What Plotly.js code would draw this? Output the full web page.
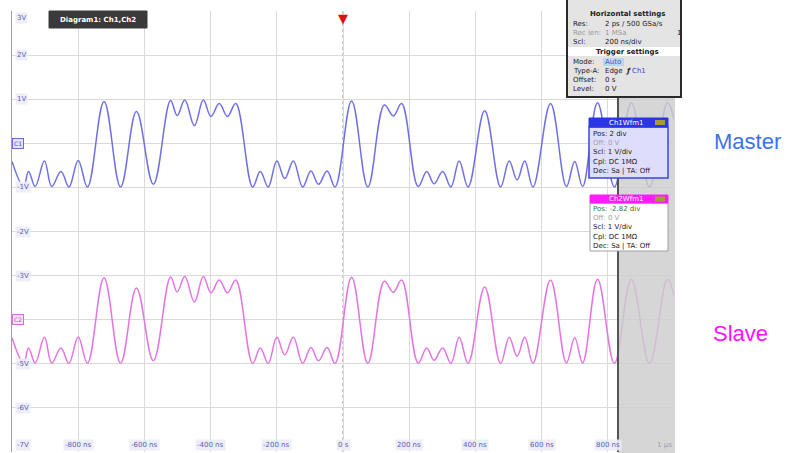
<!DOCTYPE html>
<html><head><meta charset="utf-8">
<script src="https://cdn.plot.ly/plotly-3.0.1.min.js"></script>
<style>html,body{margin:0;padding:0;background:#fff}#chart{width:787px;height:453px}</style>
</head><body><div id="chart"></div>
<script>
// ---- data (time in ns, voltage in V) ----
const masterTimeNs = [-1000,-965,-950,-930,-902,-880,-852,-828,-800,-772,-722,-672,-624,-573,-521,-501,-478,-449,-422,-399,-374,-349,-324,-273,-250,-226,-200,-176,-150,-122,-97,-74,-48,-24,26,75,125,152,177,227,253,275,301,326,351,378,428,476,502,526,549,574,627,675,700,724,769,820,871,926,980,1000];
const masterVolts = [-0.41,-0.98,-0.64,-0.98,-0.40,-0.98,-0.64,-0.99,-0.39,-0.99,0.95,-0.99,0.72,-0.93,0.97,0.63,0.98,0.40,0.98,0.61,0.90,0.61,0.90,-0.99,-0.64,-0.99,-0.40,-0.80,-0.40,-0.99,-0.63,-0.93,-0.63,-0.99,0.96,-0.99,0.87,0.62,0.90,-0.98,-0.64,-0.92,-0.64,-0.99,-0.40,-0.99,0.74,-0.99,-0.40,-0.83,-0.40,-0.99,0.90,-0.98,-0.41,-0.98,0.92,-0.99,0.92,-0.99,0.92,0.55];
const slaveTimeNs = [-1000,-965,-950,-930,-902,-880,-852,-828,-800,-772,-722,-672,-624,-573,-521,-501,-478,-449,-422,-399,-374,-349,-324,-273,-250,-226,-200,-176,-150,-122,-97,-74,-48,-24,26,75,125,152,177,227,253,275,301,326,351,378,428,476,502,526,549,574,627,675,700,724,769,820,871,926,980,1000];
const slaveVolts = [-4.41,-4.98,-4.64,-4.98,-4.40,-4.98,-4.64,-4.99,-4.39,-4.99,-3.05,-4.99,-3.28,-4.93,-3.03,-3.37,-3.02,-3.60,-3.02,-3.39,-3.10,-3.39,-3.10,-4.99,-4.64,-4.99,-4.40,-4.80,-4.40,-4.99,-4.63,-4.93,-4.63,-4.99,-3.04,-4.99,-3.13,-3.38,-3.10,-4.98,-4.64,-4.92,-4.64,-4.99,-4.40,-4.99,-3.26,-4.99,-4.40,-4.83,-4.40,-4.99,-3.10,-4.98,-4.41,-4.98,-3.08,-4.99,-3.08,-4.99,-3.08,-3.45];
const xTickVals = [-800,-600,-400,-200,0,200,400,600,800,1000];
const xTickText = ['-800 ns','-600 ns','-400 ns','-200 ns','0 s','200 ns','400 ns','600 ns','800 ns','1 µs'];
const yTickVals = [3,2,1,-1,-2,-3,-5,-6,-7];
const yTickText = ['3V','2V','1V','-1V','-2V','-3V','-5V','-6V','-7V'];
const seriesNames = ['Master','Slave'];

// ---- geometry of the plot area (pixels) ----
const L = 12, T = 11, W = 662, H = 441;
const px = v => (v - L) / W;
const py = v => 1 - (v - T) / H;
const FONT = 'DejaVu Sans, Liberation Sans, sans-serif';

const traces = [
  {x: masterTimeNs, y: masterVolts, type: 'scatter', mode: 'lines', name: seriesNames[0],
   line: {color: '#7070e6', width: 1.5, shape: 'spline', smoothing: 1.1}, hoverinfo: 'skip'},
  {x: slaveTimeNs, y: slaveVolts, type: 'scatter', mode: 'lines', name: seriesNames[1],
   line: {color: '#e474e4', width: 1.5, shape: 'spline', smoothing: 1.1}, hoverinfo: 'skip'}
];

const shapes = [];
const annotations = [];
function rectPx(x0, y0, x1, y1, fill, line, lw, layer) {
  shapes.push({type: 'rect', xref: 'paper', yref: 'paper', x0: px(x0), x1: px(x1), y0: py(y0), y1: py(y1),
    fillcolor: fill, line: {color: line || 'rgba(0,0,0,0)', width: lw || 0}, layer: layer || 'above'});
}
function textPx(text, x, y, o) {
  o = o || {};
  annotations.push(Object.assign({xref: 'paper', yref: 'paper', x: px(x), y: py(y), text: text, showarrow: false,
    xanchor: o.xa || 'left', yanchor: 'middle', font: {family: FONT, size: o.size || 7, color: o.color || '#202020'},
    borderpad: 0}, o.extra || {}));
}

// center (dotted) lines
shapes.push({type: 'line', xref: 'x', yref: 'paper', x0: 0, x1: 0, y0: 0, y1: 1, line: {color: '#8a8a8a', width: 1, dash: 'dot'}, layer: 'below'});
shapes.push({type: 'line', xref: 'paper', yref: 'y', x0: 0, x1: 1, y0: -2, y1: -2, line: {color: '#8a8a8a', width: 1, dash: 'dot'}, layer: 'below'});

// gray history area on the right
rectPx(618, 0, 675, 453, 'rgba(205,205,205,0.82)', null, 0, 'above');
shapes.push({type: 'line', xref: 'paper', yref: 'paper', x0: px(618), x1: px(618), y0: py(97), y1: 0, line: {color: '#555', width: 2}, layer: 'above'});

// y tick labels
yTickVals.forEach((v, i) => {
  annotations.push({xref: 'paper', yref: 'y', x: px(15), y: v, text: yTickText[i], showarrow: false,
    xanchor: 'left', yanchor: v === 3 ? 'top' : (v === -7 ? 'bottom' : 'middle'), yshift: v === 3 ? -1 : (v === -7 ? 1 : 0),
    font: {family: FONT, size: 7, color: '#5a5ac8'}, bgcolor: 'rgba(236,236,246,0.9)', borderpad: 1});
});
// channel markers
annotations.push({xref: 'paper', yref: 'y', x: px(12), y: 0, text: 'C1', showarrow: false, xanchor: 'left', yanchor: 'middle',
  font: {family: FONT, size: 6, color: '#4a4ad0'}, bgcolor: '#e4e4fa', bordercolor: '#6a6ad8', borderwidth: 1, borderpad: 1});
annotations.push({xref: 'paper', yref: 'y', x: px(12), y: -4, text: 'C2', showarrow: false, xanchor: 'left', yanchor: 'middle',
  font: {family: FONT, size: 6, color: '#c040c0'}, bgcolor: '#fae4fa', bordercolor: '#d070d0', borderwidth: 1, borderpad: 1});
// x tick labels
xTickVals.forEach((v, i) => {
  annotations.push({xref: 'x', yref: 'paper', x: v, y: py(445), text: xTickText[i], showarrow: false,
    xanchor: v === 1000 ? 'right' : 'center', yanchor: 'middle',
    font: {family: FONT, size: 7, color: v === 1000 ? '#9a9ab0' : '#5a5ac8'}, bgcolor: v === 1000 ? 'rgba(0,0,0,0)' : 'rgba(236,236,246,0.9)', borderpad: 1});
});

// trigger marker
annotations.push({xref: 'x', yref: 'paper', x: 0, y: 1, text: '▼', showarrow: false, xanchor: 'center', yanchor: 'top', yshift: 2,
  font: {family: FONT, size: 13, color: '#e01010'}});

// Diagram tab
rectPx(49, 11, 147, 28, '#3a3a3a', '#3a3a3a', 1);
textPx('<b>Diagram1: Ch1,Ch2</b>', 98, 20, {xa: 'center', color: '#ffffff', size: 7});

// Horizontal / trigger settings box
rectPx(567, -2, 681, 97, '#e4e4e4', '#2a2a2a', 2);
rectPx(568, 47, 680, 56, '#ffffff', null, 0);
textPx('<b>Horizontal settings</b>', 627, 14, {xa: 'center', size: 7});
textPx('Res:', 572, 24); textPx('2 ps / 500 GSa/s', 604, 24);
textPx('Rec len:', 572, 33, {color: '#9a9a9a'}); textPx('1 MSa', 604, 33, {color: '#9a9a9a'});
textPx('1', 676, 33);
textPx('Scl:', 572, 42); textPx('200 ns/div', 604, 42);
textPx('<b>Trigger settings</b>', 627, 52, {xa: 'center', size: 7});
rectPx(603, 58, 624, 66, '#bcd4f4', null, 0);
textPx('Mode:', 572, 62); textPx('Auto', 604, 62, {color: '#3a60c0'});
textPx('Type-A:', 572, 71); textPx('Edge', 604, 71); textPx('<i><b>ƒ</b></i>', 624, 71); textPx('Ch1', 631, 71, {color: '#4040d0'});
textPx('Offset:', 572, 80); textPx('0 s', 604, 80);
textPx('Level:', 572, 89); textPx('0 V', 604, 89);

// Ch1Wfm1 box
rectPx(589, 127, 668, 178, '#dedefc', '#3b46e0', 1.5);
rectPx(589, 118, 668, 127, '#2a36e6', '#2a36e6', 1);
rectPx(655, 120, 665, 125, '#a89a3a', null, 0);
textPx('Ch1Wfm1', 626, 122.5, {xa: 'center', color: '#ffffff'});
textPx('Pos: 2 div', 592, 134);
textPx('Off: 0 V', 592, 143, {color: '#a0a0b0'});
textPx('Scl: 1 V/div', 592, 152);
textPx('Cpl: DC 1MΩ', 592, 162);
textPx('Dec: Sa | TA: Off', 592, 171);

// Ch2Wfm1 box
rectPx(590, 203, 668, 251, '#ffffff', '#a0a0a0', 1);
rectPx(590, 195, 668, 203, '#ff1cff', '#ff1cff', 1);
rectPx(655, 196.5, 665, 201.5, '#a89a3a', null, 0);
textPx('Ch2Wfm1', 626, 199, {xa: 'center', color: '#ffffff'});
textPx('Pos: -2.82 div', 592, 209, {color: '#2a7a2a'});
textPx('Off: 0 V', 592, 218, {color: '#a0a0a0'});
textPx('Scl: 1 V/div', 592, 227);
textPx('Cpl: DC 1MΩ', 592, 237);
textPx('Dec: Sa | TA: Off', 592, 246);

// Series labels
textPx(seriesNames[0], 747, 142, {xa: 'center', extra: {font: {family: 'Liberation Sans, Arial, sans-serif', size: 22, color: '#3a72f0'}}});
textPx(seriesNames[1], 740, 333, {xa: 'center', extra: {font: {family: 'Liberation Sans, Arial, sans-serif', size: 22, color: '#ff10ff'}}});

const layout = {
  width: 787, height: 453,
  margin: {l: L, r: 787 - L - W, t: T, b: 453 - T - H, pad: 0},
  paper_bgcolor: '#ffffff', plot_bgcolor: '#ffffff',
  showlegend: false,
  xaxis: {range: [-1000, 1000], tick0: 0, dtick: 200, showgrid: true, gridcolor: '#dadada', gridwidth: 1,
    zeroline: false, showticklabels: false, ticks: '', showline: false, fixedrange: true},
  yaxis: {range: [-7, 3], tick0: 0, dtick: 1, showgrid: true, gridcolor: '#dadada', gridwidth: 1,
    zeroline: false, showticklabels: false, ticks: '', showline: true, linecolor: '#a0a0a0', linewidth: 1.5, fixedrange: true},
  shapes: shapes,
  annotations: annotations
};
Plotly.newPlot('chart', traces, layout, {displayModeBar: false, staticPlot: true});
</script>
</body></html>
